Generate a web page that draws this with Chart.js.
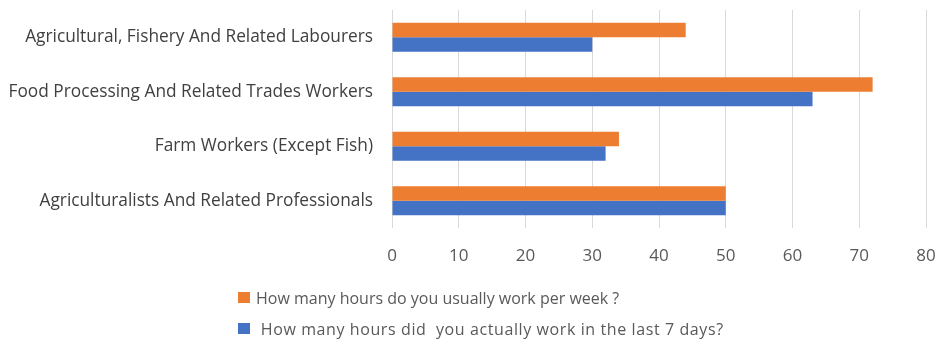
<!DOCTYPE html>
<html>
<head>
<meta charset="utf-8">
<script src="https://cdn.jsdelivr.net/npm/chart.js@4"></script>
<style>
  html, body { margin: 0; padding: 0; background: #fff; }
  #wrap { position: relative; width: 940px; height: 347px; }
  #chart { display: block; }
  #legend { position: absolute; left: 238px; top: 282px; font: 16px "Open Sans", sans-serif; color: #595959; }
  .lg-item { display: flex; align-items: center; height: 31px; white-space: pre; }
  .lg-item + .lg-item { letter-spacing: 0.6px; }
  .lg-box { width: 12px; height: 11px; margin-right: 6px; }
</style>
</head>
<body>
<div id="wrap">
  <canvas id="chart" width="940" height="347"></canvas>
  <div id="legend"></div>
</div>
<script>
// ========================================
// DATA
// ========================================
const categories = [
  'Agricultural, Fishery And Related Labourers',
  'Food Processing And Related Trades Workers',
  'Farm Workers (Except Fish)',
  'Agriculturalists And Related Professionals'
];
const usualHours = [44, 72, 34, 50];
const actualHours = [30, 63, 32, 50];
const seriesNames = [
  'How many hours do you usually work per week ?',
  ' How many hours did  you actually work in the last 7 days?'
];
const xTicks = [0, 10, 20, 30, 40, 50, 60, 70, 80];

const FONT = '"Open Sans", sans-serif';
const TEXT = '#595959';

// ========================================
// CHART
// ========================================
const chart = new Chart(document.getElementById('chart'), {
  type: 'bar',
  data: {
    labels: categories,
    datasets: [
      { label: seriesNames[0], data: usualHours, backgroundColor: '#ED7D31' },
      { label: seriesNames[1], data: actualHours, backgroundColor: '#4472C4' }
    ]
  },
  options: {
    indexAxis: 'y',
    responsive: false,
    animation: false,
    datasets: { bar: { barPercentage: 1, categoryPercentage: 0.53 } },
    layout: { padding: { top: 10, right: 14, bottom: 77, left: 0 } },
    plugins: { legend: { display: false }, tooltip: { enabled: false } },
    scales: {
      x: {
        min: xTicks[0],
        max: xTicks[xTicks.length - 1],
        ticks: { stepSize: 10, color: TEXT, padding: 18, font: { family: FONT, size: 17 } },
        grid: { color: '#d9d9d9', drawTicks: false },
        border: { display: false },
        afterFit: (scale) => {
          scale.height = 42;
          scale.paddingLeft = 0;
          scale.paddingRight = 0;
        }
      },
      y: {
        ticks: { color: '#404040', padding: 19, font: { family: FONT, size: 17.3 } },
        grid: { display: false, drawTicks: false },
        border: { display: false },
        afterFit: (scale) => {
          scale.width = 392;
          scale.paddingTop = 0;
          scale.paddingBottom = 0;
        }
      }
    }
  }
});

// ========================================
// LEGEND (stacked, below the plot)
// ========================================
const legend = document.getElementById('legend');
chart.data.datasets.forEach(ds => {
  const item = document.createElement('div');
  item.className = 'lg-item';
  item.innerHTML = `<span class="lg-box" style="background:${ds.backgroundColor}"></span><span>${ds.label}</span>`;
  legend.appendChild(item);
});
</script>
</body>
</html>
